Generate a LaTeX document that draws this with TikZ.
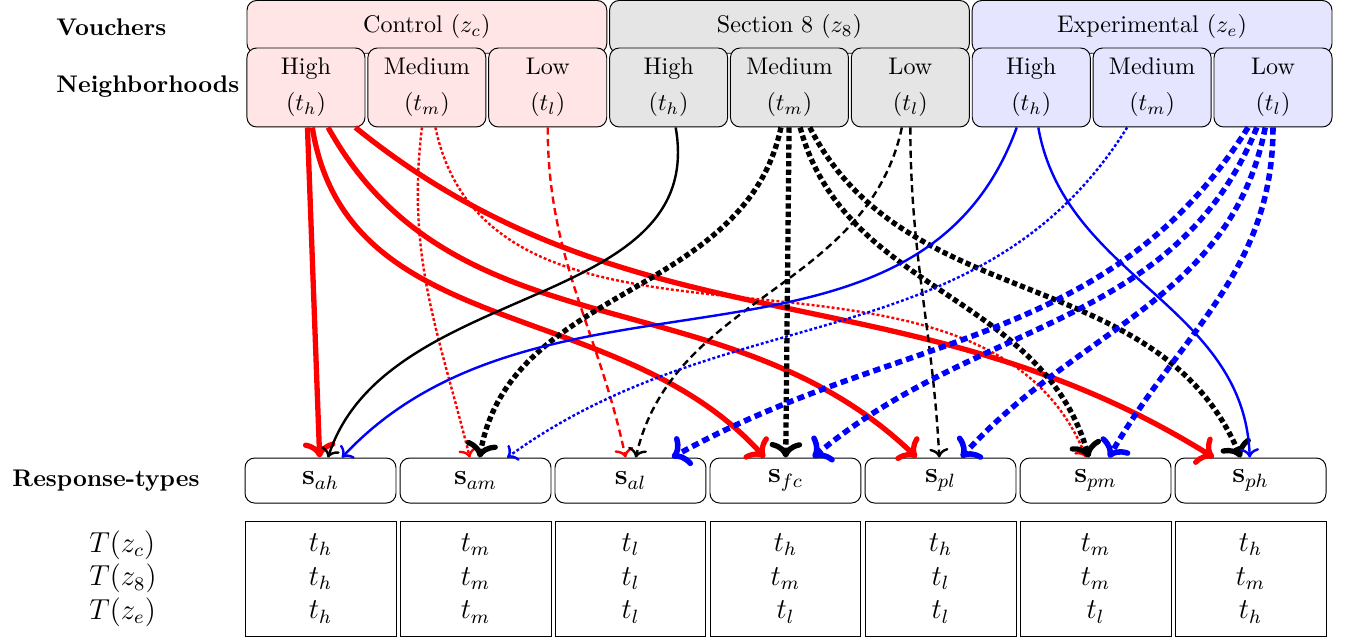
\documentclass[tikz,border=0pt]{standalone}
\usepackage{amsmath}
\usetikzlibrary{arrows.meta}
\definecolor{CtrlFill}{rgb}{1, 0.9, 0.9}
\definecolor{SecFill}{rgb}{0.9, 0.9, 0.9}
\definecolor{ExpFill}{rgb}{0.9, 0.9, 1}
\tikzset{
    voucher/.style={draw, rounded corners=4pt, minimum width=5.252cm, minimum height=0.77cm,
        anchor=north, inner sep=0pt},
    hood/.style={draw, rounded corners=4pt, minimum width=1.723cm, minimum height=1.153cm,
        align=center, inner sep=0pt},
    resp/.style={draw, rounded corners=4pt, fill=white, minimum width=2.204cm,
        minimum height=0.657cm, font=\large, inner sep=0pt},
    cell/.style={draw, minimum width=2.204cm, minimum height=1.679cm, align=center,
        font=\large, inner sep=0pt},
    rowname/.style={font=\bfseries},
    thinsolid/.style={->, line width=1pt},
    thicksolid/.style={->, line width=2.2pt},
    thindot/.style={->, line width=1pt, dash pattern=on 1.2pt off 0.9pt},
    thickdot/.style={->, line width=2.2pt, dash pattern=on 2.2pt off 1.3pt},
    thindash/.style={->, line width=1pt, dash pattern=on 3pt off 1.8pt},
    thickdash/.style={->, line width=2.3pt, dash pattern=on 3pt off 1.8pt},
}
\newcommand{\hood}[5]{% nombre, x, texto, indice, relleno
    \node[hood, fill=#5] (#1) at (#2,-1.277) {#3\\[3pt]$(t_{#4})$};
}
\newcommand{\respcol}[6]{% nombre, x, indice, T(zc), T(z8), T(ze)
    \node[resp] (#1) at (#2,-7.015) {$\mathbf{s}_{#3}$};
    \node[cell] (#1tab) at (#2,-8.445) {$t_{#4}$\\$t_{#5}$\\$t_{#6}$};
}

\begin{document}
\begin{tikzpicture}
\useasboundingbox (0,0) rectangle (19.752,-9.358);

\node[voucher, fill=CtrlFill] (ctrl) at (6.232,0) {Control $(z_c)$};
\node[voucher, fill=SecFill] (sec) at (11.525,0) {Section 8 $(z_8)$};
\node[voucher, fill=ExpFill] (exp) at (16.819,0) {Experimental $(z_e)$};

\hood{ch}{4.467}{High}{h}{CtrlFill}
\hood{cm}{6.232}{Medium}{m}{CtrlFill}
\hood{cl}{7.996}{Low}{l}{CtrlFill}
\hood{sh}{9.761}{High}{h}{SecFill}
\hood{sm}{11.525}{Medium}{m}{SecFill}
\hood{sl}{13.290}{Low}{l}{SecFill}
\hood{xh}{15.055}{High}{h}{ExpFill}
\hood{xm}{16.819}{Medium}{m}{ExpFill}
\hood{xl}{18.584}{Low}{l}{ExpFill}

\node[rowname, anchor=west] (vlabel) at (0.70,-0.394) {Vouchers};
\node[rowname, anchor=west] (nlabel) at (0.70,-1.270) {Neighborhoods};
\node[rowname] (rlabel) at (1.547,-7.015) {Response-types};
\node[align=left, font=\large] (tlabel) at (1.796,-8.445) {$T(z_c)$\\$T(z_8)$\\$T(z_e)$};

\respcol{sah}{4.679}{ah}{h}{h}{h}
\respcol{sam}{6.942}{am}{m}{m}{m}
\respcol{sal}{9.204}{al}{l}{l}{l}
\respcol{sfc}{11.467}{fc}{h}{m}{l}
\respcol{spl}{13.730}{pl}{h}{l}{l}
\respcol{spm}{15.993}{pm}{m}{m}{l}
\respcol{sph}{18.256}{ph}{h}{m}{h}

% control
\draw[thicksolid, red] (ch) -- (sah);
\draw[thicksolid, red] (ch) to[out=-81, in=132] (sfc);
\draw[thicksolid, red] (ch) to[out=-61, in=136] (spl);
\draw[thicksolid, red] (ch) to[out=-39, in=148] (sph);
\draw[thindot, red] (cm) to[out=-97, in=104] (sam);
\draw[thindot, red] (cm) to[out=-78, in=112] (spm);
\draw[thindash, red] (cl) to[out=-90, in=102] (sal);
% section 8
\draw[thinsolid] (sh) to[out=-80, in=72] (sah);
\draw[thickdot] (sm) to[out=-102, in=80] (sam);
\draw[thickdot] (sm) -- (sfc);
\draw[thickdot] (sm) to[out=-75, in=106] (spm);
\draw[thickdot] (sm) to[out=-63, in=113] (sph);
\draw[thindash] (sl) to[out=-102, in=77] (sal);
\draw[thindash] (sl) to[out=-90, in=93] (spl);
% experimental
\draw[thinsolid, blue] (xh) to[out=-110, in=47] (sah);
\draw[thinsolid, blue] (xh) to[out=-80, in=92] (sph);
\draw[thindot, blue] (xm) to[out=-122, in=36] (sam);
\draw[thickdash, blue] (xl) to[out=-122, in=29] (sal);
\draw[thickdash, blue] (xl) to[out=-112, in=40] (sfc);
\draw[thickdash, blue] (xl) to[out=-101, in=48] (spl);
\draw[thickdash, blue] (xl) to[out=-90, in=60] (spm);

\end{tikzpicture}
\end{document}
